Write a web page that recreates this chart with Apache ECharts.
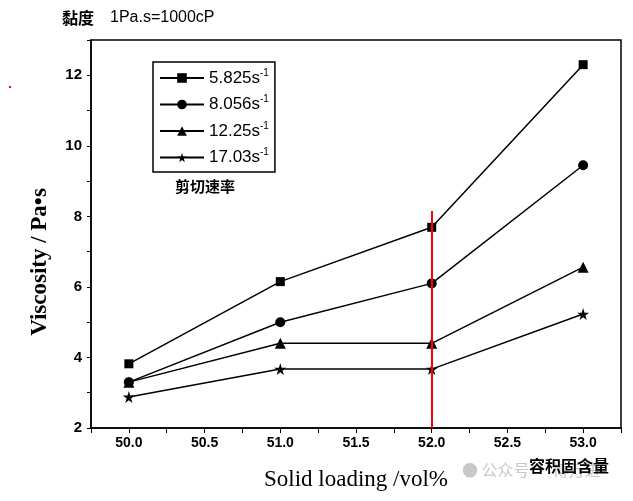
<!DOCTYPE html>
<html>
<head>
<meta charset="utf-8">
<script src="https://cdn.jsdelivr.net/npm/echarts@6/dist/echarts.min.js"></script>
<style>
  html, body { margin: 0; padding: 0; background: #fff; }
  #main { width: 633px; height: 501px; }
</style>
</head>
<body>
<div id="main"></div>
<script>
// solid loading (vol%)
var loading = [50, 51, 52, 53];
// shear rates for the legend
var rates = ['5.825', '8.056', '12.25', '17.03'];
// viscosity (Pa.s) for each shear rate
var visc1 = [3.82, 6.15, 7.69, 12.3];
var visc2 = [3.30, 5.00, 6.10, 9.45];
var visc3 = [3.30, 4.40, 4.40, 6.56];
var visc4 = [2.88, 3.67, 3.67, 5.23];
// red marker line: x, from y, to y
var redLine = [52, 2, 8.15];

var starPath = 'path://M50,0 L61,35 L98,35 L68,57 L79,91 L50,70 L21,91 L32,57 L2,35 L39,35 Z';
var symbols = ['rect', 'circle', 'triangle', starPath];
var sizes = [9, 10, 11, 12];
var allVisc = [visc1, visc2, visc3, visc4];

var chartDom = document.getElementById('main');
var myChart = echarts.init(chartDom, null, { renderer: 'canvas' });

var series = [];
for (let i = 0; i < rates.length; i++) {
    let pts = loading.map((x, j) => [x, allVisc[i][j]]);
    series.push({
        name: rates[i],
        type: 'line',
        data: pts,
        symbol: symbols[i],
        symbolSize: sizes[i],
        showAllSymbol: true,
        itemStyle: { color: '#000' },
        lineStyle: { color: '#000', width: 1.5 },
        z: 3
    });
}
series[0].markLine = {
    silent: true,
    symbol: ['none', 'none'],
    label: { show: false },
    lineStyle: { color: '#ff0000', width: 2, type: 'solid' },
    data: [[{ coord: [redLine[0], redLine[1]] }, { coord: [redLine[0], redLine[2]] }]],
    z: 5
};

var option = {
    animation: false,
    backgroundColor: '#fff',
    grid: {
        left: 91, right: 12, top: 40, bottom: 73,
        show: true, borderColor: '#000', borderWidth: 1.5
    },
    legend: {
        orient: 'vertical',
        left: 153, top: 62,
        padding: [6, 6, 6, 6],
        itemGap: 8,
        itemWidth: 44,
        itemHeight: 12,
        borderColor: '#000',
        borderWidth: 1.5,
        borderRadius: 0,
        data: rates,
        formatter: function (n) { return '{a|' + n + 's}{s|-1}'; },
        textStyle: {
            color: '#000',
            rich: {
                a: { fontFamily: 'Arial, Liberation Sans', fontSize: 17, color: '#000' },
                s: { fontFamily: 'Arial, Liberation Sans', fontSize: 10, color: '#000', verticalAlign: 'top', padding: [0, 0, 10, 0] }
            }
        }
    },
    xAxis: {
        type: 'value',
        min: 49.75, max: 53.25, interval: 0.25,
        name: 'Solid loading /vol%',
        nameLocation: 'middle',
        nameGap: 40,
        nameTextStyle: { fontFamily: 'Liberation Serif, Times New Roman', fontSize: 23, color: '#000' },
        axisLine: { lineStyle: { color: '#000', width: 1.5 } },
        axisTick: { lineStyle: { color: '#000' }, length: 5 },
        splitLine: { show: false },
        axisLabel: {
            color: '#000', fontFamily: 'Arial, Liberation Sans', fontSize: 14, fontWeight: 'bold', margin: 8,
            formatter: function (v) { return Math.abs(v * 2 - Math.round(v * 2)) < 1e-6 && v >= 50 && v <= 53 ? v.toFixed(1) : ''; }
        }
    },
    yAxis: {
        type: 'value',
        min: 2, max: 13, interval: 1,
        axisLine: { show: true, lineStyle: { color: '#000', width: 1.5 } },
        axisTick: { show: true, lineStyle: { color: '#000' }, length: 4 },
        splitLine: { show: false },
        axisLabel: {
            color: '#000', fontFamily: 'Arial, Liberation Sans', fontSize: 15, fontWeight: 'bold', margin: 9,
            formatter: function (v) { return v % 2 === 0 && v <= 12 ? String(v) : ''; }
        }
    },
    graphic: [
        { type: 'text', x: 40, y: 262, rotation: Math.PI / 2, style: { text: 'Viscosity / Pa\u2022s', align: 'center', verticalAlign: 'middle', font: 'bold 23px "Liberation Serif", "Times New Roman"', fill: '#000' } },
        { type: 'text', left: 62, top: 10, style: { text: '黏度', font: 'bold 16px "Noto Sans CJK SC"', fill: '#000' } },
        { type: 'text', left: 110, top: 10, style: { text: '1Pa.s=1000cP', font: '16px Arial, "Liberation Sans"', fill: '#000' } },
        { type: 'text', left: 175, top: 179, style: { text: '剪切速率', font: 'bold 15px "Noto Sans CJK SC"', fill: '#000' } },
        { type: 'text', left: 462, top: 462, style: { text: '\u25CF 公众号 · 博万进', font: '16px "Noto Sans CJK SC"', fill: '#c8c8c8' } },
        { type: 'text', left: 529, top: 458, style: { text: '容积固含量', font: 'bold 16px "Noto Sans CJK SC"', fill: '#000' } },
        { type: 'rect', shape: { x: 9, y: 86, width: 2, height: 2 }, style: { fill: '#ff0000' } }
    ],
    series: series
};

option && myChart.setOption(option);
</script>
</body>
</html>
